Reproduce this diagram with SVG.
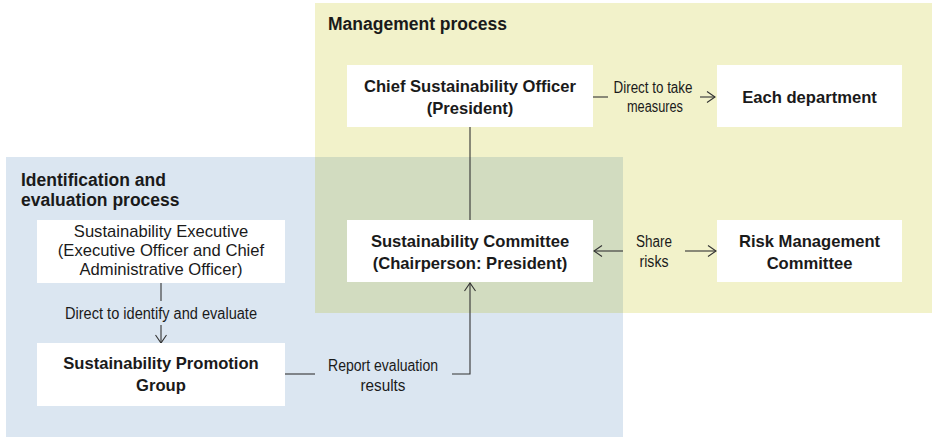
<svg xmlns="http://www.w3.org/2000/svg" width="942" height="447" viewBox="0 0 942 447">
<defs>
<style>
.node{fill:#ffffff;}
.b{font-family:"Liberation Sans",Arial,sans-serif;font-weight:bold;font-size:16.6px;fill:#1a1a1a;text-anchor:middle;}
.r{font-family:"Liberation Sans",Arial,sans-serif;font-size:16.6px;fill:#1a1a1a;text-anchor:middle;}
.t{font-family:"Liberation Sans",Arial,sans-serif;font-weight:bold;font-size:17.5px;fill:#1a1a1a;}
.l{font-family:"Liberation Sans Narrow","Liberation Sans",Arial,sans-serif;font-size:16px;fill:#1a1a1a;text-anchor:middle;}
.c{fill:none;stroke:#333333;stroke-width:1.1;}
</style>
<marker id="ah" markerUnits="userSpaceOnUse" markerWidth="12" markerHeight="14" refX="10" refY="6" orient="auto" viewBox="0 0 12 12">
<path d="M2,0.5 L10,6 L2,11.5" fill="none" stroke="#333333" stroke-width="1.1"/>
</marker>
</defs>
<rect width="942" height="447" fill="#ffffff"/>
<g id="management-process">
<rect x="315" y="3" width="617" height="310" fill="#f2f2ca"/>
</g>
<g id="identification-process">
<rect x="6" y="157" width="617" height="280" fill="#dbe6f1"/>
<rect x="315" y="157" width="308" height="156" fill="#d2dcc0"/>
</g>
<text class="t" x="328" y="30">Management process</text>
<text class="t" x="21" y="186">Identification and</text>
<text class="t" x="21" y="206">evaluation process</text>
<g id="connectors">
<line class="c" x1="593" y1="97" x2="608" y2="97"/>
<line class="c" x1="700" y1="97" x2="715" y2="97" marker-end="url(#ah)"/>
<line class="c" x1="470" y1="127" x2="470" y2="220"/>
<line class="c" x1="623" y1="251" x2="594" y2="251" marker-end="url(#ah)"/>
<line class="c" x1="685" y1="251" x2="716" y2="251" marker-end="url(#ah)"/>
<line class="c" x1="161" y1="283" x2="161" y2="301"/>
<line class="c" x1="161" y1="325" x2="161" y2="343" marker-end="url(#ah)"/>
<line class="c" x1="285" y1="374" x2="315" y2="374"/>
<polyline class="c" points="452,374 470,374 470,283" marker-end="url(#ah)"/>
<text class="l" x="653" y="93" textLength="79" lengthAdjust="spacingAndGlyphs">Direct to take</text>
<text class="l" x="655" y="112" textLength="56" lengthAdjust="spacingAndGlyphs">measures</text>
<text class="l" x="654" y="247" textLength="36" lengthAdjust="spacingAndGlyphs">Share</text>
<text class="l" x="654" y="267" textLength="29" lengthAdjust="spacingAndGlyphs">risks</text>
<text class="l" x="161" y="319" textLength="192" lengthAdjust="spacingAndGlyphs">Direct to identify and evaluate</text>
<text class="l" x="383" y="371" textLength="110" lengthAdjust="spacingAndGlyphs">Report evaluation</text>
<text class="l" x="383" y="391" textLength="45" lengthAdjust="spacingAndGlyphs">results</text>
</g>
<g id="cso">
<rect class="node" x="347" y="65" width="246" height="62"/>
<text class="b" x="470" y="92">Chief Sustainability Officer</text>
<text class="b" x="470" y="114">(President)</text>
</g>
<g id="each-department">
<rect class="node" x="717" y="65" width="185" height="62"/>
<text class="b" x="809.5" y="103">Each department</text>
</g>
<g id="sustainability-committee">
<rect class="node" x="347" y="220" width="246" height="62"/>
<text class="b" x="470" y="247">Sustainability Committee</text>
<text class="b" x="470" y="269">(Chairperson: President)</text>
</g>
<g id="risk-management-committee">
<rect class="node" x="717" y="220" width="185" height="62"/>
<text class="b" x="809.5" y="247">Risk Management</text>
<text class="b" x="809.5" y="269">Committee</text>
</g>
<g id="sustainability-executive">
<rect class="node" x="37" y="220" width="248" height="63"/>
<text class="r" x="161" y="237">Sustainability Executive</text>
<text class="r" x="161" y="256">(Executive Officer and Chief</text>
<text class="r" x="161" y="275">Administrative Officer)</text>
</g>
<g id="sustainability-promotion-group">
<rect class="node" x="37" y="343" width="248" height="63"/>
<text class="b" x="161" y="369">Sustainability Promotion</text>
<text class="b" x="161" y="391">Group</text>
</g>
</svg>
